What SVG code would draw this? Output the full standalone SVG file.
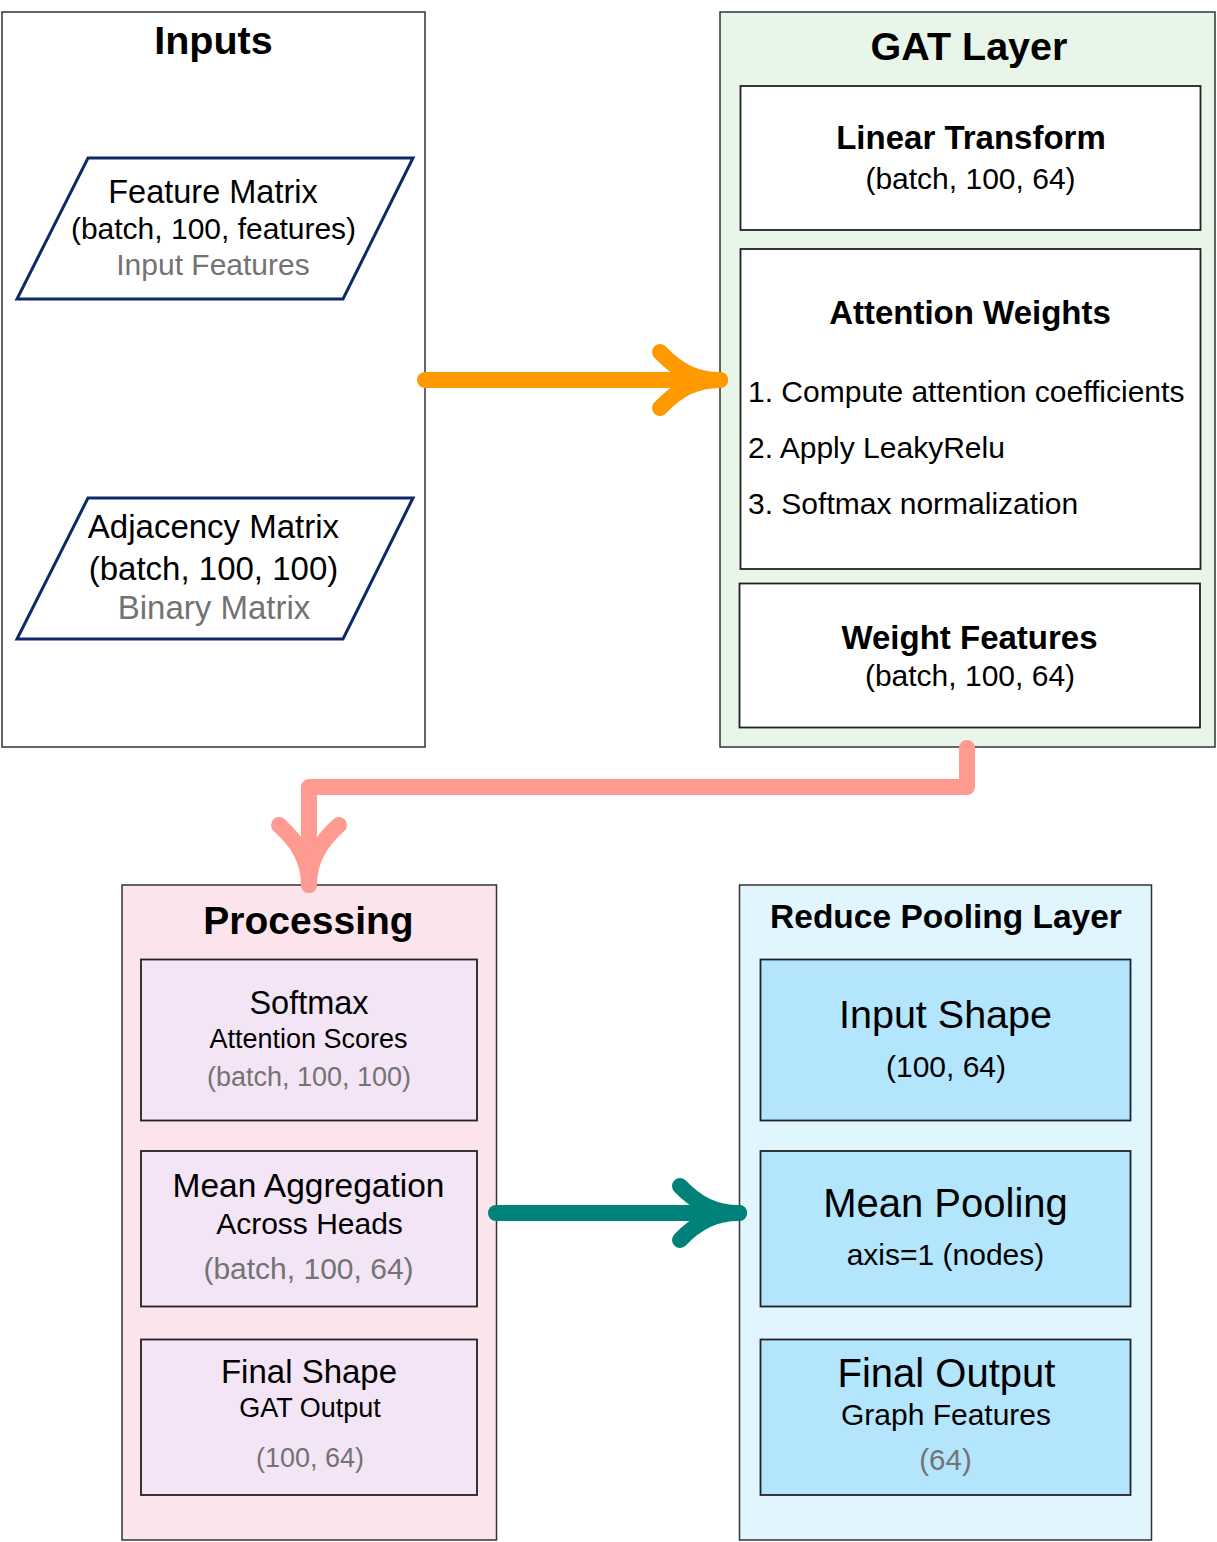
<svg xmlns="http://www.w3.org/2000/svg" width="1217" height="1542" viewBox="0 0 1217 1542">
<style>
text{font-family:"Liberation Sans",Arial,sans-serif;fill:#000;text-anchor:middle}
.b{font-weight:bold}
.g{fill:#737373}
.cl{stroke:#333;stroke-width:1.5}
.box{stroke:#222;stroke-width:1.8}
.para{fill:#fff;stroke:#0c2a66;stroke-width:3}
.conn{fill:none;stroke-width:16;stroke-linecap:round;stroke-linejoin:round}
</style>
<defs>
<marker id="vo" markerUnits="userSpaceOnUse" viewBox="-80 -45 95 90" markerWidth="95" markerHeight="90" refX="0" refY="0" orient="auto" overflow="visible">
<path d="M-60,-28 C-42,-9 -24,0 0,0 M-60,28 C-42,9 -24,0 0,0" fill="none" stroke="#ff9900" stroke-width="16" stroke-linecap="round"/>
</marker>
<marker id="vp" markerUnits="userSpaceOnUse" viewBox="-80 -45 95 90" markerWidth="95" markerHeight="90" refX="0" refY="0" orient="auto" overflow="visible">
<path d="M-60,-30 C-42,-10 -24,0 0,0 M-60,30 C-42,10 -24,0 0,0" fill="none" stroke="#ff9a90" stroke-width="16" stroke-linecap="round"/>
</marker>
<marker id="vt" markerUnits="userSpaceOnUse" viewBox="-80 -45 95 90" markerWidth="95" markerHeight="90" refX="0" refY="0" orient="auto" overflow="visible">
<path d="M-59,-27 C-42,-9 -24,0 0,0 M-59,27 C-42,9 -24,0 0,0" fill="none" stroke="#00827a" stroke-width="16" stroke-linecap="round"/>
</marker>
</defs>
<rect width="1217" height="1542" fill="#fff"/>

<g id="inputs">
<rect class="cl" x="2" y="12" width="423" height="735" fill="#fff"/>
<text class="b" x="213.5" y="54" font-size="39.5">Inputs</text>
</g>
<g id="feature-matrix">
<polygon class="para" points="88,158 413,158 343,299 17,299"/>
<text x="213" y="203" font-size="32.5">Feature Matrix</text>
<text x="213.5" y="239" font-size="30">(batch, 100, features)</text>
<text class="g" x="213" y="275" font-size="30">Input Features</text>
</g>
<g id="adjacency-matrix">
<polygon class="para" points="88,498 413,498 343,639 17,639"/>
<text x="213.5" y="538" font-size="33">Adjacency Matrix</text>
<text x="213.5" y="580" font-size="33">(batch, 100, 100)</text>
<text class="g" x="214" y="619" font-size="33">Binary Matrix</text>
</g>

<g id="gat-layer">
<rect class="cl" x="720" y="12" width="495" height="735" fill="#e8f5e9"/>
<text class="b" x="969" y="60" font-size="39.5">GAT Layer</text>
</g>
<g id="linear-transform">
<rect class="box" x="740.5" y="86" width="460" height="144" fill="#fff"/>
<text class="b" x="971" y="149" font-size="33">Linear Transform</text>
<text x="970.5" y="189" font-size="30">(batch, 100, 64)</text>
</g>
<g id="attention-weights">
<rect class="box" x="740.5" y="249" width="460" height="320" fill="#fff"/>
<text class="b" x="970" y="324" font-size="33">Attention Weights</text>
<text x="748" y="402" font-size="30" style="text-anchor:start">1. Compute attention coefficients</text>
<text x="748" y="458" font-size="30" style="text-anchor:start">2. Apply LeakyRelu</text>
<text x="748" y="514" font-size="30" style="text-anchor:start">3. Softmax normalization</text>
</g>
<g id="weight-features">
<rect class="box" x="739.5" y="583.5" width="460.5" height="144" fill="#fff"/>
<text class="b" x="969.5" y="649" font-size="33">Weight Features</text>
<text x="970" y="686" font-size="30">(batch, 100, 64)</text>
</g>

<g id="processing">
<rect class="cl" x="122" y="885" width="374.5" height="655" fill="#fce4ec"/>
<text class="b" x="308.5" y="934" font-size="39">Processing</text>
</g>
<g id="softmax">
<rect class="box" x="141" y="959.5" width="336" height="161" fill="#f3e5f5"/>
<text x="309" y="1014" font-size="32.5">Softmax</text>
<text x="308.5" y="1048" font-size="27">Attention Scores</text>
<text class="g" x="309" y="1086" font-size="27">(batch, 100, 100)</text>
</g>
<g id="mean-aggregation">
<rect class="box" x="141" y="1151" width="336" height="155.5" fill="#f3e5f5"/>
<text x="308.5" y="1197" font-size="33.5">Mean Aggregation</text>
<text x="309.5" y="1234" font-size="30">Across Heads</text>
<text class="g" x="308.5" y="1279" font-size="30">(batch, 100, 64)</text>
</g>
<g id="final-shape">
<rect class="box" x="141" y="1339.5" width="336" height="155.5" fill="#f3e5f5"/>
<text x="309" y="1383" font-size="33">Final Shape</text>
<text x="310" y="1417" font-size="27">GAT Output</text>
<text class="g" x="310" y="1467" font-size="27">(100, 64)</text>
</g>

<g id="reduce-pooling-layer">
<rect class="cl" x="739.5" y="885" width="412" height="655" fill="#e1f5fe"/>
<text class="b" x="946" y="928" font-size="33.5">Reduce Pooling Layer</text>
</g>
<g id="input-shape">
<rect class="box" x="760.5" y="959.5" width="370" height="161" fill="#b3e5fc"/>
<text x="945.5" y="1028" font-size="39.5">Input Shape</text>
<text x="946" y="1077" font-size="30">(100, 64)</text>
</g>
<g id="mean-pooling">
<rect class="box" x="760.5" y="1151" width="370" height="155.5" fill="#b3e5fc"/>
<text x="945.5" y="1217" font-size="40">Mean Pooling</text>
<text x="945.5" y="1265" font-size="30">axis=1 (nodes)</text>
</g>
<g id="final-output">
<rect class="box" x="760.5" y="1339.5" width="370" height="155.5" fill="#b3e5fc"/>
<text x="946.5" y="1387" font-size="40">Final Output</text>
<text x="946" y="1425" font-size="30">Graph Features</text>
<text class="g" x="945.5" y="1470" font-size="29.5">(64)</text>
</g>

<g id="connectors">
<path class="conn" stroke="#ff9900" d="M425,380 H720" marker-end="url(#vo)"/>
<path class="conn" stroke="#ff9a90" d="M967,748 V787 H309 V885" marker-end="url(#vp)"/>
<path class="conn" stroke="#00827a" d="M496,1213 H739" marker-end="url(#vt)"/>
</g>
</svg>
